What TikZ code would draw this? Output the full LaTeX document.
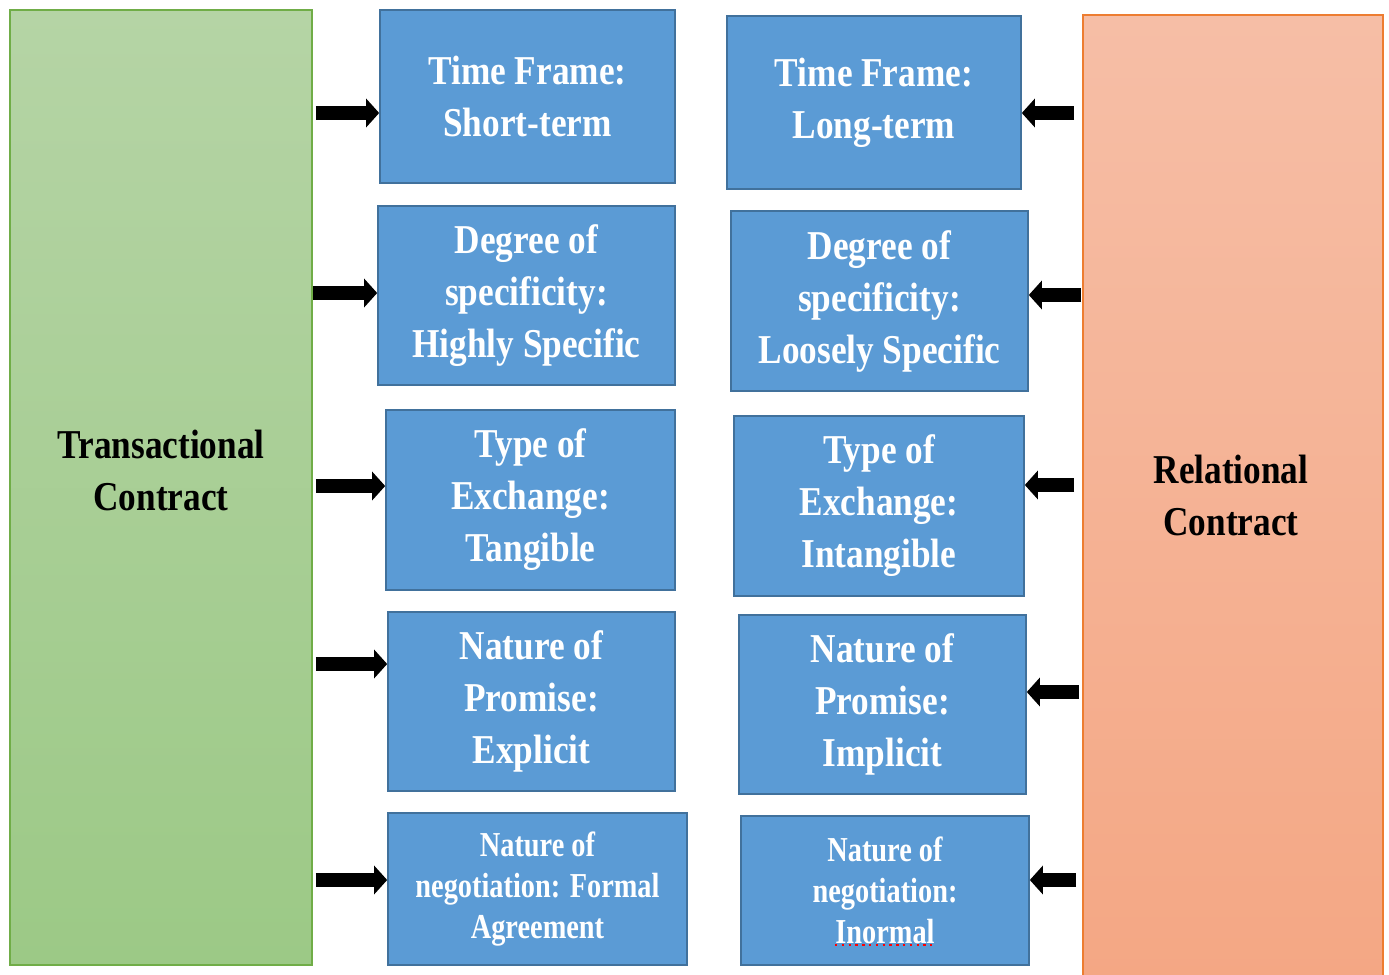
\documentclass[tikz,border=0pt]{standalone}
\usepackage{fontspec}
\setmainfont{Liberation Serif}[FakeStretch=0.86]
\newfontfamily\narrowserif{Liberation Serif}[FakeStretch=0.81]
\usetikzlibrary{arrows.meta}
\definecolor{bluefill}{HTML}{5B9BD5}
\definecolor{blueline}{HTML}{41719C}
\definecolor{greentop}{HTML}{B5D4A5}
\definecolor{greenbot}{HTML}{9CC986}
\definecolor{greenline}{HTML}{70AD47}
\definecolor{orangetop}{HTML}{F6BEA6}
\definecolor{orangebot}{HTML}{F4A784}
\definecolor{orangeline}{HTML}{ED7D31}
\begin{document}
\begin{tikzpicture}[x=0.5pt,y=-0.5pt,
  bluebox/.style={rectangle, fill=bluefill, draw=blueline, line width=0.8pt, inner sep=0pt},
  bigtxt/.style={font=\fontsize{20.5pt}{26pt}\selectfont\bfseries, text=white, align=center},
  smalltxt/.style={font=\narrowserif\fontsize{17.5pt}{20.5pt}\selectfont\bfseries, text=white, align=center},
  sidetxt/.style={font=\fontsize{20.5pt}{26pt}\selectfont\bfseries, text=black, align=center},
  arr/.style={line width=7pt, -{Triangle[length=6.5pt,width=14pt]}}
]
\useasboundingbox (0,0) rectangle (1389,975);
\begin{scope}
\clip (0,0) rectangle (1389,975);
% side boxes
\node[rectangle, top color=greentop, bottom color=greenbot, draw=greenline, line width=0.8pt,
      minimum width=151pt, minimum height=477.5pt, inner sep=0pt] (T) at (161,487.5) {};
\node[rectangle, top color=orangetop, bottom color=orangebot, draw=orangeline, line width=0.8pt,
      minimum width=150pt, minimum height=482.5pt, inner sep=0pt] (R) at (1233,497.5) {};
\end{scope}
\node[sidetxt] (Tl) at (161,470) {Transactional\\Contract};
\node[sidetxt] (Rl) at (1231,495) {Relational\\Contract};
% left column
\node[bluebox, bigtxt, minimum width=147.5pt, minimum height=86.5pt] (L1) at (527.5,96.5) {Time Frame:\\Short-term};
\node[bluebox, bigtxt, minimum width=148.5pt, minimum height=89.5pt] (L2) at (526.5,295.5) {Degree of\\specificity:\\Highly Specific};
\node[bluebox, bigtxt, minimum width=144.5pt, minimum height=90pt] (L3) at (530.5,500) {Type of\\Exchange:\\Tangible};
\node[bluebox, bigtxt, minimum width=143.5pt, minimum height=89.5pt] (L4) at (531.5,701.5) {Nature of\\Promise:\\Explicit};
\node[bluebox, smalltxt, minimum width=149.5pt, minimum height=76pt] (L5) at (537.5,889) {Nature of\\negotiation: Formal\\Agreement};
% right column
\node[bluebox, bigtxt, minimum width=147pt, minimum height=86.5pt] (R1) at (874,102.5) {Time Frame:\\Long-term};
\node[bluebox, bigtxt, minimum width=148.5pt, minimum height=90pt] (R2) at (879.5,301) {Degree of\\specificity:\\Loosely Specific};
\node[bluebox, bigtxt, minimum width=145pt, minimum height=90pt] (R3) at (879,506) {Type of\\Exchange:\\Intangible};
\node[bluebox, bigtxt, minimum width=143.5pt, minimum height=89.5pt] (R4) at (882.5,704.5) {Nature of\\Promise:\\Implicit};
\node[bluebox, smalltxt, minimum width=144pt, minimum height=74.5pt] (R5) at (885,890.5) {Nature of\\negotiation:\\Inormal};
% spell-check underline
\draw[red, line width=1pt, dash pattern=on 1.2pt off 2.2pt] ([shift={(-50,-21)}]R5.south) -- ([shift={(47,-21)}]R5.south);
% arrows left
\draw[arr, shorten <=1.5pt] (T.east |- 0,113) -- (L1.west |- 0,113);
\draw[arr, shorten <=0pt] (T.east |- 0,293) -- (L2.west |- 0,293);
\draw[arr, shorten <=1.5pt] (T.east |- 0,486) -- (L3.west |- 0,486);
\draw[arr, shorten <=1.5pt] (T.east |- 0,664) -- (L4.west |- 0,664);
\draw[arr, shorten <=1.5pt] (T.east |- 0,880) -- (L5.west |- 0,880);
% arrows right
\draw[arr, shorten <=4pt] (R.west |- 0,113) -- (R1.east |- 0,113);
\draw[arr, shorten <=0.5pt] (R.west |- 0,295) -- (R2.east |- 0,295);
\draw[arr, shorten <=4pt] (R.west |- 0,485) -- (R3.east |- 0,485);
\draw[arr, shorten <=1.5pt] (R.west |- 0,692) -- (R4.east |- 0,692);
\draw[arr, shorten <=3pt] (R.west |- 0,880) -- (R5.east |- 0,880);
\end{tikzpicture}
\end{document}
